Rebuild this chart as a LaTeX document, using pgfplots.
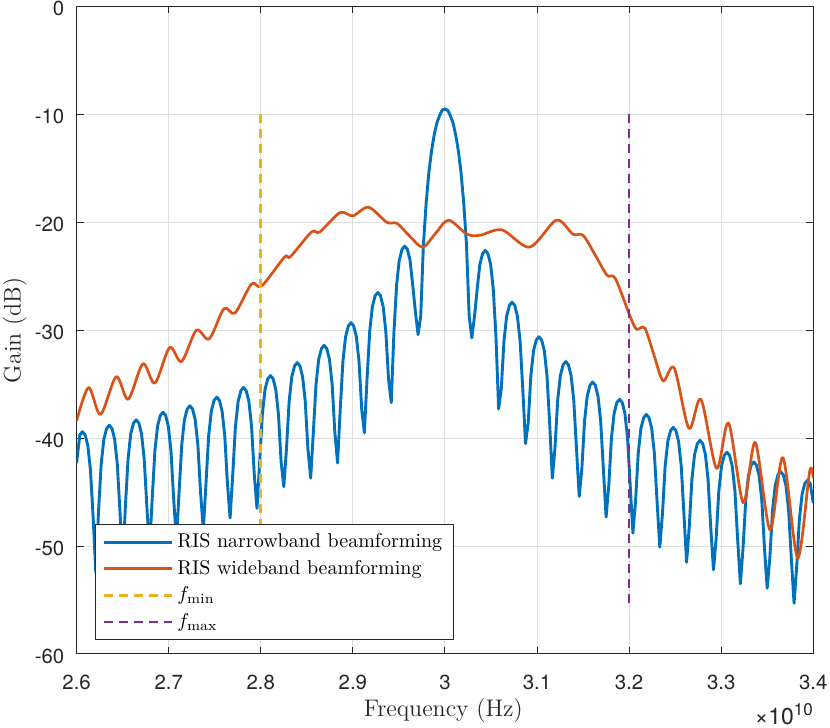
\documentclass[border=0pt]{standalone}
\usepackage{fontspec}
\usepackage{pgfplots}
\pgfplotsset{compat=1.18}
\newfontfamily\helv{TeX Gyre Heros}
\definecolor{mblue}{rgb}{0,0.447,0.741}
\definecolor{morange}{rgb}{0.850,0.325,0.098}
\definecolor{myellow}{rgb}{0.929,0.694,0.125}
\definecolor{mpurple}{rgb}{0.494,0.184,0.556}
\definecolor{axgray}{rgb}{0.15,0.15,0.15}

\pgfplotstableread{
x y
2.6000 -42.3
2.6035 -39.7
2.6063 -39.4
2.6093 -39.7
2.6122 -40.7
2.6151 -43.0
2.6180 -47.4
2.6209 -52.5
2.6238 -46.8
2.6267 -42.4
2.6296 -40.1
2.6326 -39.1
2.6355 -38.8
2.6384 -39.1
2.6413 -40.1
2.6442 -42.4
2.6471 -46.8
2.6501 -51.5
2.6530 -46.3
2.6559 -41.9
2.6588 -39.6
2.6618 -38.6
2.6647 -38.3
2.6676 -38.6
2.6705 -39.6
2.6734 -41.9
2.6763 -46.3
2.6792 -50.5
2.6821 -45.6
2.6850 -41.2
2.6879 -38.9
2.6909 -37.9
2.6938 -37.6
2.6967 -37.9
2.6996 -38.9
2.7025 -41.2
2.7054 -45.6
2.7084 -49.5
2.7113 -45.0
2.7142 -40.6
2.7171 -38.3
2.7201 -37.3
2.7230 -37.0
2.7259 -37.3
2.7288 -38.3
2.7317 -40.6
2.7346 -45.0
2.7376 -48.5
2.7405 -44.2
2.7434 -39.8
2.7463 -37.5
2.7493 -36.5
2.7522 -36.2
2.7551 -36.5
2.7580 -37.5
2.7609 -39.8
2.7638 -44.2
2.7667 -47.4
2.7696 -43.3
2.7725 -38.9
2.7754 -36.6
2.7784 -35.6
2.7813 -35.3
2.7842 -35.6
2.7871 -36.6
2.7900 -38.9
2.7929 -43.3
2.7959 -46.5
2.7988 -42.2
2.8017 -37.8
2.8046 -35.5
2.8076 -34.5
2.8105 -34.2
2.8134 -34.5
2.8163 -35.5
2.8192 -37.8
2.8221 -42.2
2.8250 -44.5
2.8279 -41.0
2.8308 -36.6
2.8337 -34.3
2.8367 -33.3
2.8396 -33.0
2.8425 -33.3
2.8454 -34.3
2.8483 -36.6
2.8512 -41.0
2.8542 -43.7
2.8571 -39.4
2.8600 -35.0
2.8629 -32.7
2.8659 -31.7
2.8688 -31.4
2.8717 -31.7
2.8746 -32.7
2.8775 -35.0
2.8804 -39.4
2.8834 -42.3
2.8863 -37.3
2.8892 -32.9
2.8921 -30.6
2.8951 -29.6
2.8980 -29.3
2.9009 -29.6
2.9038 -30.6
2.9067 -32.9
2.9096 -37.3
2.9125 -39.5
2.9154 -34.5
2.9183 -30.1
2.9212 -27.8
2.9242 -26.8
2.9271 -26.5
2.9300 -26.8
2.9329 -27.8
2.9358 -30.1
2.9387 -34.5
2.9417 -36.7
2.9446 -30.2
2.9475 -25.8
2.9504 -23.5
2.9534 -22.5
2.9563 -22.2
2.9592 -22.5
2.9621 -23.5
2.9650 -25.8
2.9679 -28.3
2.9708 -30.4
2.9737 -28.7
2.9766 -22.1
2.9796 -18.2
2.9825 -15.4
2.9854 -13.4
2.9883 -11.9
2.9912 -10.8
2.9942 -10.1
2.9971 -9.6
3.0000 -9.5
3.0029 -9.6
3.0058 -10.1
3.0088 -10.8
3.0117 -11.9
3.0146 -13.4
3.0175 -15.4
3.0204 -18.2
3.0234 -22.1
3.0263 -28.7
3.0292 -30.7
3.0321 -28.7
3.0350 -26.2
3.0379 -23.9
3.0409 -22.9
3.0438 -22.6
3.0467 -22.9
3.0496 -23.9
3.0525 -26.2
3.0554 -30.6
3.0583 -37.3
3.0612 -35.4
3.0641 -31.0
3.0670 -28.7
3.0700 -27.7
3.0729 -27.4
3.0758 -27.7
3.0787 -28.7
3.0816 -31.0
3.0845 -35.4
3.0875 -40.5
3.0904 -38.6
3.0933 -34.2
3.0962 -31.9
3.0992 -30.9
3.1021 -30.6
3.1050 -30.9
3.1079 -31.9
3.1108 -34.2
3.1137 -38.6
3.1166 -43.7
3.1195 -40.9
3.1224 -36.5
3.1253 -34.2
3.1283 -33.2
3.1312 -32.9
3.1341 -33.2
3.1370 -34.2
3.1399 -36.5
3.1428 -40.9
3.1458 -45.4
3.1487 -42.8
3.1516 -38.4
3.1545 -36.1
3.1575 -35.1
3.1604 -34.8
3.1633 -35.1
3.1662 -36.1
3.1691 -38.4
3.1720 -42.8
3.1750 -47.3
3.1779 -44.4
3.1808 -40.0
3.1837 -37.7
3.1867 -36.7
3.1896 -36.4
3.1925 -36.7
3.1954 -37.7
3.1983 -40.0
3.2012 -44.4
3.2041 -48.8
3.2070 -45.8
3.2099 -41.4
3.2128 -39.1
3.2158 -38.1
3.2187 -37.8
3.2216 -38.1
3.2245 -39.1
3.2274 -41.4
3.2303 -45.8
3.2333 -50.1
3.2362 -47.0
3.2391 -42.6
3.2420 -40.3
3.2450 -39.3
3.2479 -39.0
3.2508 -39.3
3.2537 -40.3
3.2566 -42.6
3.2595 -47.0
3.2624 -51.5
3.2653 -48.2
3.2682 -43.8
3.2711 -41.5
3.2741 -40.5
3.2770 -40.2
3.2799 -40.5
3.2828 -41.5
3.2857 -43.8
3.2886 -48.2
3.2916 -52.2
3.2945 -49.3
3.2974 -44.9
3.3003 -42.6
3.3033 -41.6
3.3062 -41.3
3.3091 -41.6
3.3120 -42.6
3.3149 -44.9
3.3178 -49.3
3.3208 -53.5
3.3237 -50.2
3.3266 -45.8
3.3295 -43.5
3.3325 -42.5
3.3354 -42.2
3.3383 -42.5
3.3412 -43.5
3.3441 -45.8
3.3470 -50.2
3.3499 -53.9
3.3528 -51.1
3.3557 -46.7
3.3586 -44.4
3.3616 -43.4
3.3645 -43.1
3.3674 -43.4
3.3703 -44.4
3.3732 -46.7
3.3761 -51.1
3.3791 -55.3
3.3820 -51.9
3.3849 -47.5
3.3878 -45.2
3.3908 -44.2
3.3937 -43.9
3.3966 -44.2
3.4000 -46.0
}\narrow

\pgfplotstableread{
x y
2.600 -38.4
2.613 -35.3
2.626 -37.8
2.643 -34.3
2.656 -36.4
2.672 -33.1
2.685 -34.9
2.701 -31.6
2.714 -32.9
2.730 -30.0
2.744 -30.8
2.760 -28.0
2.772 -28.4
2.790 -25.7
2.801 -25.9
2.826 -23.2
2.832 -23.2
2.855 -20.9
2.864 -20.9
2.886 -19.1
2.900 -19.4
2.917 -18.6
2.937 -20.0
2.948 -20.1
2.962 -21.3
2.976 -22.3
2.990 -21.0
3.004 -19.8
3.024 -21.1
3.038 -21.2
3.062 -20.7
3.092 -22.3
3.121 -19.8
3.139 -21.1
3.150 -21.2
3.163 -23.0
3.176 -24.9
3.185 -25.2
3.201 -28.7
3.208 -29.9
3.217 -29.8
3.227 -32.3
3.237 -34.7
3.249 -33.5
3.265 -39.1
3.278 -36.4
3.295 -42.8
3.308 -38.6
3.324 -46.0
3.337 -40.4
3.353 -48.5
3.367 -41.8
3.383 -51.1
3.396 -43.1
3.400 -43.7
}\wide

\begin{document}
\begin{tikzpicture}
\begin{axis}[
  name=main,
  scale only axis, width=368.35pt, height=323.75pt,
  clip mode=individual,
  xmin=2.6, xmax=3.4, ymin=-60, ymax=0,
  xtick={2.6,2.7,2.8,2.9,3.0,3.1,3.2,3.3,3.4},
  xticklabels={2.6,2.7,2.8,2.9,3,3.1,3.2,3.3,3.4},
  ytick={-60,-50,-40,-30,-20,-10,0},
  yticklabels={-60,-50,-40,-30,-20,-10,0},
  ticklabel style={font=\helv\fontsize{10.2}{12}\selectfont, text=axgray},
  xticklabel style={yshift=-6.8pt},
  yticklabel style={xshift=-2.6pt, yshift=-1pt},
  tick align=inside, major tick length=3.5pt,
  tick style={axgray, line width=0.5pt},
  axis line style={axgray, line width=0.5pt},
  grid=major, major grid style={black!13, line width=0.5pt},
  legend style={at={(0.025,0.022)}, anchor=south west, draw=axgray, fill=white,
    font=\fontsize{10}{12}\selectfont, inner xsep=3.5pt, inner ysep=2.5pt, row sep=0.8pt,
    cells={anchor=west}},
  legend image code/.code={\draw[#1] (0pt,0pt) -- (34pt,0pt);},
  line join=round,
]
\addplot[mblue, line width=1.45pt] table[x=x,y=y] {\narrow};
\addlegendentry{RIS narrowband beamforming}
\addplot[morange, line width=1.35pt, smooth, tension=0.5] table[x=x,y=y] {\wide};
\addlegendentry{RIS wideband beamforming}
\addplot[myellow, line width=1.35pt, dash pattern=on 4.5pt off 3pt] coordinates {(2.8,-55.3) (2.8,-9.5)};
\addlegendentry{$f_{\min}$}
\addplot[mpurple, line width=1.35pt, dash pattern=on 4.5pt off 3pt] coordinates {(3.2,-55.3) (3.2,-9.5)};
\addlegendentry{$f_{\max}$}
\end{axis}
\node[anchor=base, inner sep=0pt, text=axgray, font=\fontsize{12}{14}\selectfont]
  at ([xshift=-0.8pt, yshift=-31.35pt]main.south) {Frequency (Hz)};
\node[anchor=base, rotate=90, inner sep=0pt, text=axgray, font=\fontsize{12}{14}\selectfont]
  at ([xshift=-28pt]main.west) {Gain (dB)};
\node[anchor=base east, inner sep=0pt, text=axgray]
  at ([yshift=-35.5pt]main.south east) {\helv\fontsize{11.5}{13}\selectfont ×10\raisebox{5pt}{\fontsize{8.5}{10}\selectfont 10}};
\pgfresetboundingbox
\path ([xshift=-38.3pt, yshift=-37pt]main.south west) rectangle ([xshift=8.35pt, yshift=3.25pt]main.north east);
\end{tikzpicture}
\end{document}
